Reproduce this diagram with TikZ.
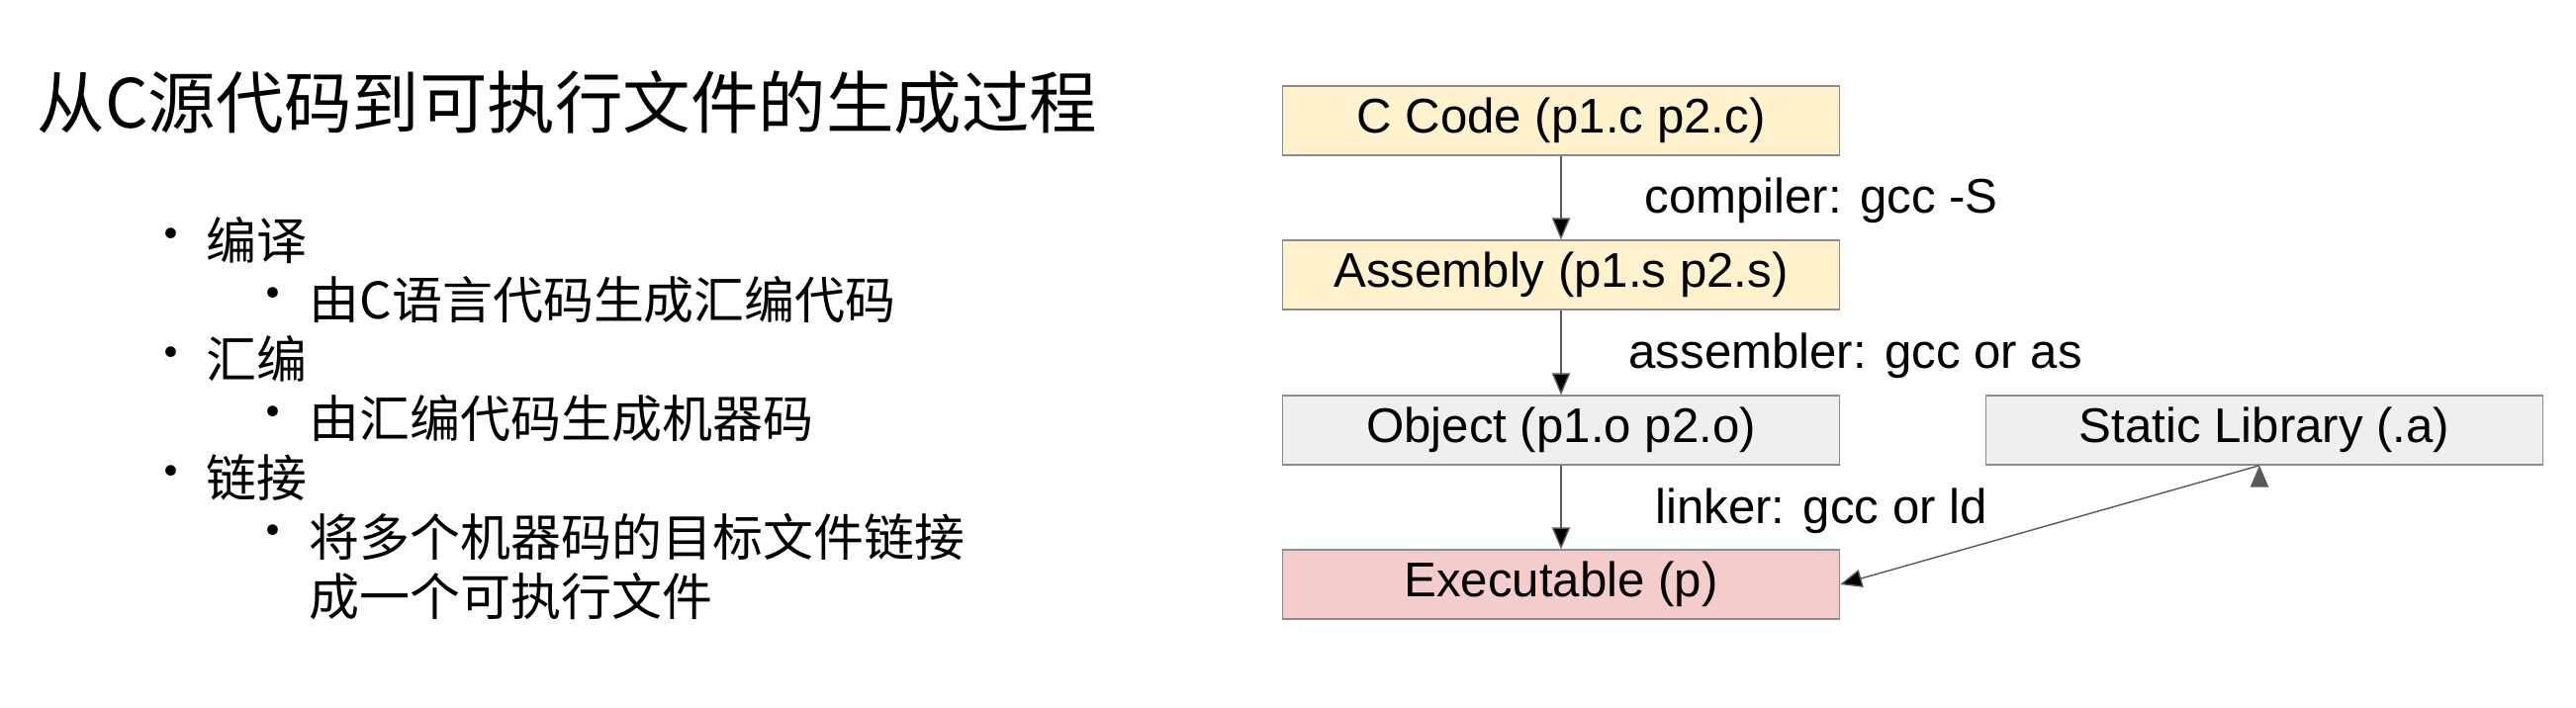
\documentclass[tikz,border=0pt]{standalone}
\usepackage{fontspec}
\setmainfont{Liberation Sans}
\newfontfamily\cjk{Noto Sans CJK SC}
\usepackage{tikz}
\usetikzlibrary{positioning}
\usetikzlibrary{arrows}

\definecolor{codeyellow}{HTML}{FFF2CC}
\definecolor{objgrey}{HTML}{EFEFEF}
\definecolor{exepink}{HTML}{F4CCCC}
\definecolor{edgegrey}{HTML}{595959}

\begin{document}
\begin{tikzpicture}[->,>=triangle 45,thin,
	stage node/.style={draw=edgegrey!70,minimum width=5.63cm,minimum height=0.7cm,inner sep=0pt,font=\fontsize{14}{16}\selectfont},
	step label/.style={anchor=west,font=\fontsize{14}{16}\selectfont},
	item text/.style={anchor=west,inner sep=0pt,font=\cjk\fontsize{14.5}{17}\selectfont}]
	\useasboundingbox (0,0) rectangle (26.04,7.16);

	\node[anchor=west,inner sep=0pt,font=\cjk\fontsize{19.5}{22}\selectfont] (title) at (0.37,6.13) {从C源代码到可执行文件的生成过程};

	\node[item text] (d1) at (1.47,4.73) {•};
	\node[item text] (b1) at (2.08,4.73) {编译};
	\node[item text] (d2) at (2.5,4.13) {•};
	\node[item text] (b2) at (3.12,4.13) {由C语言代码生成汇编代码};
	\node[item text] (d3) at (1.47,3.53) {•};
	\node[item text] (b3) at (2.08,3.53) {汇编};
	\node[item text] (d4) at (2.5,2.93) {•};
	\node[item text] (b4) at (3.12,2.93) {由汇编代码生成机器码};
	\node[item text] (d5) at (1.47,2.33) {•};
	\node[item text] (b5) at (2.08,2.33) {链接};
	\node[item text] (d6) at (2.5,1.73) {•};
	\node[item text] (b6) at (3.12,1.73) {将多个机器码的目标文件链接};
	\node[item text] (b7) at (3.12,1.13) {成一个可执行文件};

	\node[stage node,fill=codeyellow] (ccode) at (15.78,5.94) {C Code (p1.c p2.c)};
	\node[stage node,fill=codeyellow] (asm) at (15.78,4.38) {Assembly (p1.s p2.s)};
	\node[stage node,fill=objgrey] (obj) at (15.78,2.81) {Object (p1.o p2.o)};
	\node[stage node,fill=exepink] (exe) at (15.78,1.25) {Executable (p)};
	\node[stage node,fill=objgrey] (lib) at (22.89,2.81) {Static Library (.a)};
	\coordinate (libfoot) at ([xshift=-0.05cm]lib.south);

	\node[step label] (compile) at (16.5,5.13) {compiler: gcc -S};
	\node[step label] (assemble) at (16.34,3.56) {assembler: gcc or as};
	\node[step label] (link) at (16.61,1.99) {linker: gcc or ld};

	\path[draw=edgegrey]
	(ccode)	edge (asm)
	(asm)	edge (obj)
	(obj)	edge (exe)
	(libfoot) edge (exe.east)
	;
\end{tikzpicture}
\end{document}
